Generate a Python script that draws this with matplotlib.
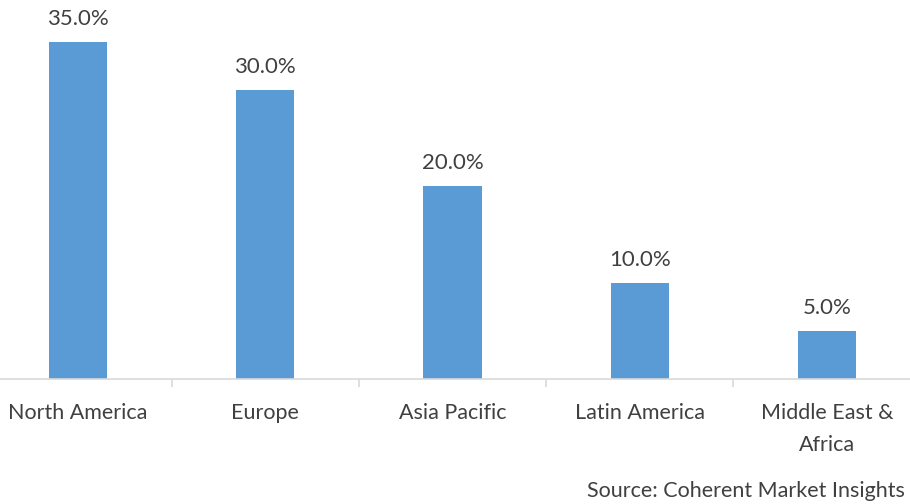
import matplotlib.pyplot as plt

# data
regions = ["North America", "Europe", "Asia Pacific", "Latin America", "Middle East &\nAfrica"]
shares = [35.0, 30.0, 20.0, 10.0, 5.0]

bar_color = "#5B9BD5"
text_color = "#404040"
font = "Lato"

fig = plt.figure(figsize=(9.1, 5.04), dpi=100)
# plot area runs slightly past the left/right edges like the original
ax = fig.add_axes([-15.5 / 910, (504 - 379) / 504, 936 / 910, 379 / 504])

x = range(len(regions))
bars = ax.bar(x, shares, width=0.31, color=bar_color, zorder=2)

for b, v in zip(bars, shares):
    ax.annotate(f"{v:.1f}%", (b.get_x() + b.get_width() / 2, v),
                xytext=(0, 13), textcoords="offset pixels",
                ha="center", va="bottom", fontsize=16, color=text_color, family=font)

ax.set_xlim(-0.5, len(regions) - 0.5)
ax.set_ylim(0, 379 / 9.63)

for s in ["top", "right", "left"]:
    ax.spines[s].set_visible(False)
ax.spines["bottom"].set_color("#d9d9d9")
ax.spines["bottom"].set_linewidth(1.2)
ax.set_yticks([])

# category boundary ticks
ax.set_xticks([i + 0.5 for i in range(len(regions) - 1)], minor=True)
ax.tick_params(axis="x", which="minor", length=6, color="#d9d9d9", width=1.2)
ax.set_xticks(list(x))
ax.set_xticklabels(regions, fontsize=15.5, color=text_color, family=font, linespacing=1.75)
ax.tick_params(axis="x", which="major", length=0, pad=17)
for lbl in ax.get_xticklabels():
    lbl.set_verticalalignment("top")

fig.text(905 / 910, 1 - 491 / 504, "Source: Coherent Market Insights", ha="right", va="center",
         fontsize=15.5, color=text_color, family=font)

fig.savefig("out.png", dpi=100)
